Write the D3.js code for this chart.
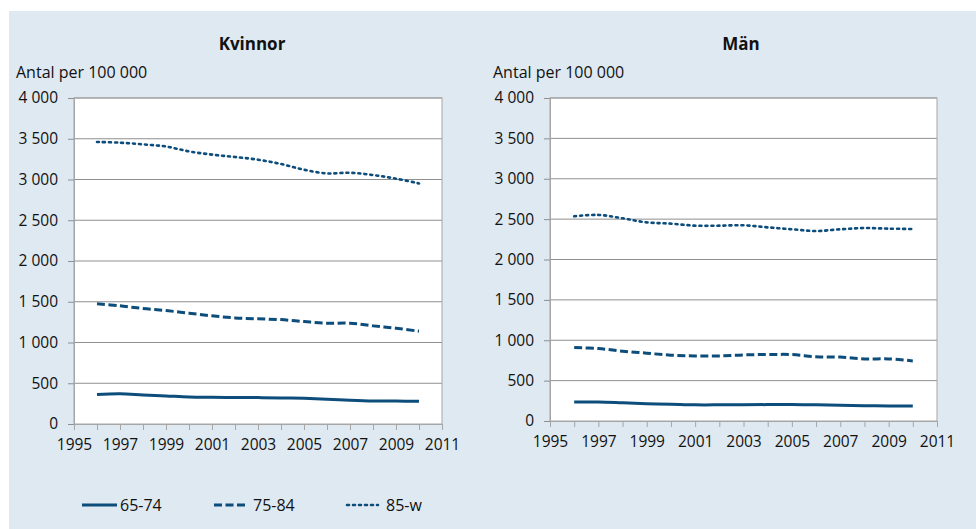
<!DOCTYPE html>
<html>
<head>
<meta charset="utf-8">
<script src="https://cdn.jsdelivr.net/npm/d3@7"></script>
<style>
  body { margin: 0; background: #fff; }
  text { font-family: "Open Sans", Lato, sans-serif; fill: #111; }
</style>
</head>
<body>
<div id="chart"></div>
<script>
const years = [1996, 1997, 1998, 1999, 2000, 2001, 2002, 2003, 2004, 2005, 2006, 2007, 2008, 2009, 2010];
const seriesNames = ["65-74", "75-84", "85-w"];

// Kvinnor
const women6574 = [362, 370, 357, 345, 332, 328, 325, 324, 320, 315, 305, 292, 283, 282, 278];
const women7584 = [1474, 1450, 1417, 1392, 1360, 1327, 1302, 1290, 1281, 1257, 1237, 1237, 1204, 1175, 1138];
const women85w = [3460, 3452, 3431, 3405, 3345, 3305, 3276, 3243, 3190, 3120, 3075, 3083, 3055, 3010, 2952];

// Män
const men6574 = [235, 234, 225, 215, 208, 200, 200, 202, 203, 205, 200, 195, 190, 185, 185];
const men7584 = [910, 897, 865, 840, 815, 806, 806, 819, 823, 823, 796, 792, 769, 769, 744];
const men85w = [2535, 2552, 2510, 2460, 2444, 2419, 2419, 2424, 2398, 2374, 2353, 2374, 2390, 2382, 2378];

const yTicks = [0, 500, 1000, 1500, 2000, 2500, 3000, 3500, 4000];
const xTickLabels = [1995, 1997, 1999, 2001, 2003, 2005, 2007, 2009, 2011];

const W = 976, H = 529;
const lineColor = "#0d4d7c";
const dashes = [null, "8,3.5", "2,4"];
const widths = [3, 3, 2.6];

const svg = d3.select("#chart").append("svg")
    .attr("width", W)
    .attr("height", H);

svg.append("rect")
    .attr("x", 9).attr("y", 11)
    .attr("width", W - 9).attr("height", H - 11)
    .attr("fill", "#dfe9f1");

const fmt = v => d3.format(",")(v).replace(/,/g, " ");

function drawPanel(cfg) {
    const x = d3.scaleLinear().domain([1995, 2011]).range([cfg.left, cfg.right]);
    const y = d3.scaleLinear().domain([0, 4000]).range([cfg.bottom, cfg.top]);
    const g = svg.append("g");

    g.append("rect")
        .attr("x", cfg.left).attr("y", cfg.top)
        .attr("width", cfg.right - cfg.left).attr("height", cfg.bottom - cfg.top)
        .attr("fill", "#fff");

    // gridlines
    g.append("g").selectAll("line")
        .data(yTicks.filter(t => t > 0))
        .enter().append("line")
        .attr("x1", cfg.left).attr("x2", cfg.right)
        .attr("y1", d => y(d)).attr("y2", d => y(d))
        .attr("stroke", "#8f8f8f").attr("stroke-width", 1);

    // plot border
    g.append("rect")
        .attr("x", cfg.left).attr("y", cfg.top)
        .attr("width", cfg.right - cfg.left).attr("height", cfg.bottom - cfg.top)
        .attr("fill", "none").attr("stroke", "#a6a6a6").attr("stroke-width", 1);

    // y axis
    const yAxis = d3.axisLeft(y).tickValues(yTicks).tickFormat(fmt).tickSize(6).tickPadding(10);
    const ya = g.append("g").attr("transform", `translate(${cfg.left},0)`).call(yAxis);
    ya.select(".domain").attr("stroke", "#a6a6a6");
    ya.selectAll(".tick line").attr("stroke", "#8f8f8f");
    ya.selectAll("text").style("font-size", "15.5px").style("font-family", "'Open Sans', sans-serif").attr("fill", "#111");

    // x axis: yearly ticks, labels every other year
    const xAxis = d3.axisBottom(x).tickValues(d3.range(1995, 2012)).tickSize(6).tickPadding(9)
        .tickFormat(d => xTickLabels.includes(d) ? d : "");
    const xa = g.append("g").attr("transform", `translate(0,${cfg.bottom})`).call(xAxis);
    xa.select(".domain").attr("stroke", "#a6a6a6");
    xa.selectAll(".tick line").attr("stroke", "#a6a6a6");
    xa.selectAll("text").style("font-size", "15.5px").style("font-family", "'Open Sans', sans-serif").attr("fill", "#111");

    const line = d3.line()
        .x((d, i) => x(years[i]))
        .y(d => y(d))
        .curve(d3.curveCatmullRom.alpha(0.5));

    cfg.series.forEach((s, i) => {
        g.append("path")
            .datum(s)
            .attr("d", line)
            .attr("fill", "none")
            .attr("stroke", lineColor)
            .attr("stroke-width", widths[i])
            .attr("stroke-dasharray", dashes[i])
            .attr("stroke-linecap", i === 2 ? "round" : "butt");
    });

    svg.append("text")
        .attr("x", cfg.titleX).attr("y", 50)
        .attr("text-anchor", "middle")
        .style("font-size", "17px").style("font-weight", "bold")
        .text(cfg.title);

    svg.append("text")
        .attr("x", cfg.unitX).attr("y", 78)
        .style("font-size", "16px")
        .text("Antal per 100 000");
}

drawPanel({
    title: "Kvinnor", titleX: 252, unitX: 16,
    left: 74, right: 442, top: 98, bottom: 424,
    series: [women6574, women7584, women85w]
});

drawPanel({
    title: "Män", titleX: 741, unitX: 493,
    left: 550, right: 937, top: 98, bottom: 421,
    series: [men6574, men7584, men85w]
});

// legend
const legendX = [82, 214, 347];
const legend = svg.append("g");
seriesNames.forEach((name, i) => {
    legend.append("line")
        .attr("x1", legendX[i]).attr("x2", legendX[i] + (i === 0 ? 35 : 31))
        .attr("y1", 505).attr("y2", 505)
        .attr("stroke", lineColor)
        .attr("stroke-width", widths[i])
        .attr("stroke-dasharray", dashes[i])
        .attr("stroke-linecap", i === 2 ? "round" : "butt");
    legend.append("text")
        .attr("x", legendX[i] + (i === 0 ? 38 : 39))
        .attr("y", 511)
        .style("font-size", "16px")
        .text(name);
});
</script>
</body>
</html>
